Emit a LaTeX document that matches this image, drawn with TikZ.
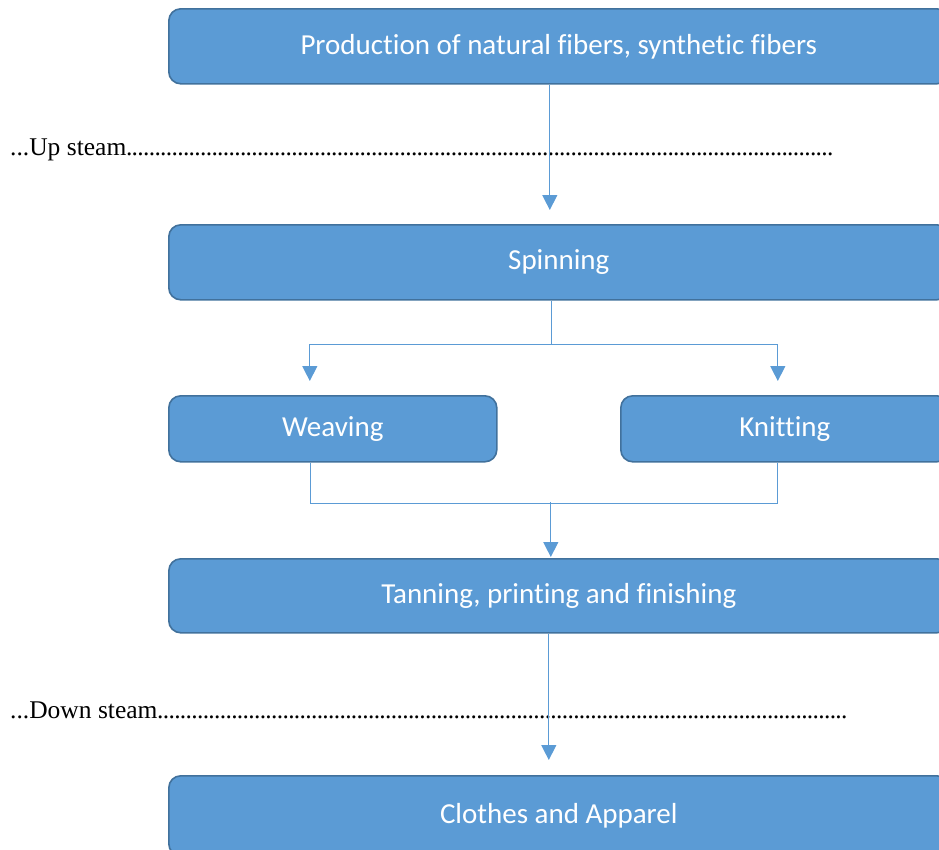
\documentclass[tikz,border=0pt]{standalone}
\usepackage{fontspec}
\setmainfont{Carlito}[Ligatures=CommonOff]
\newfontfamily\timesf{Liberation Serif}
\usetikzlibrary{arrows.meta}
\definecolor{boxfill}{HTML}{5B9BD5}
\definecolor{boxedge}{HTML}{41719C}
\newcommand{\dotrun}[1]{\makebox[#1]{\leaders\hbox to 5.7pt{\hss.\hss}\hfill}}
\begin{document}
\begin{tikzpicture}[x=1pt,y=-1pt,
  procbox/.style={draw=boxedge, line width=1.6pt, fill=boxfill, rounded corners=12pt,
    text=white, font=\fontsize{29}{32}\selectfont, inner sep=0pt, anchor=north west},
  conn/.style={draw=boxfill, line width=1.2pt},
  arr/.style={conn, -{Triangle[width=15pt,length=15pt]}},
  lbl/.style={font=\timesf\fontsize{25.5}{28}\selectfont, inner sep=0pt, anchor=base west}]
\useasboundingbox (0,0) rectangle (939,849);
\clip (0,0) rectangle (939,849);
\node[procbox, minimum width=780pt, minimum height=75pt] (prod) at (168,8) {\raisebox{3pt}{Production of natural fibers, synthetic fibers}};
\node[procbox, minimum width=780pt, minimum height=75pt] (spin) at (168,224) {\raisebox{2pt}{Spinning}};
\node[procbox, minimum width=328pt, minimum height=66pt] (weave) at (168,395) {Weaving};
\node[procbox, minimum width=328pt, minimum height=66pt] (knit) at (620,395) {Knitting};
\node[procbox, minimum width=780pt, minimum height=74pt] (tan) at (168,558) {\raisebox{2pt}{Tanning, printing and finishing}};
\node[procbox, minimum width=780pt, minimum height=80pt] (cloth) at (168,775) {\raisebox{4pt}{Clothes and Apparel}};
\node[lbl] (up) at (10,155) {...Up steam\dotrun{708pt}};
\node[lbl] (down) at (10,718) {...Down steam\dotrun{691pt}};
\draw[arr] ([xshift=-9pt]prod.south) -- ([xshift=-9pt,yshift=14pt]spin.north);
\draw[conn] ([xshift=-7pt]spin.south) -- ++(0,44) coordinate (j1);
\draw[arr] (j1) -| ([xshift=-23pt,yshift=14pt]weave.north);
\draw[arr] (j1) -| ([xshift=-7pt,yshift=14pt]knit.north);
\draw[conn] ([xshift=-22pt]weave.south) |- ([yshift=-41pt,xshift=-7pt]knit.south) -- ([xshift=-7pt]knit.south);
\draw[arr] ([xshift=-8pt,yshift=56pt]tan.north) coordinate (j2) -- ([xshift=-8pt,yshift=1pt]tan.north);
\draw[arr] ([xshift=-10pt]tan.south) -- ([xshift=-10pt,yshift=15pt]cloth.north);
\end{tikzpicture}
\end{document}
